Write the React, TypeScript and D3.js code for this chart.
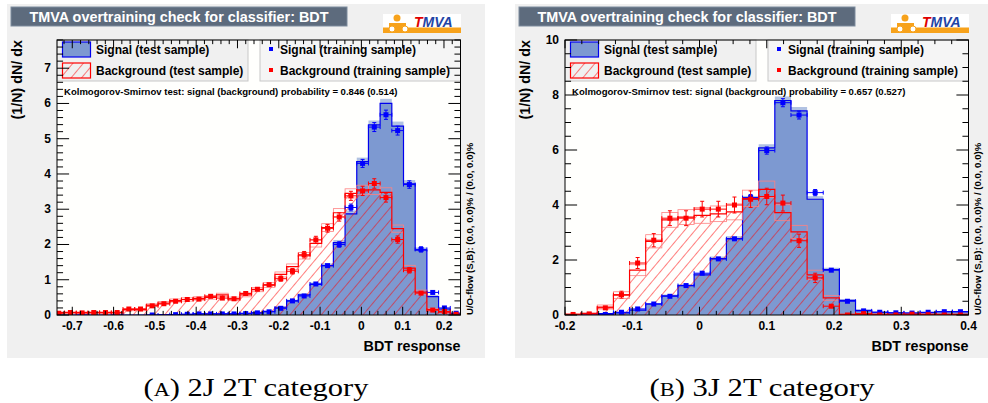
import React from "react";
import * as d3 from "d3";

// ---- panel A : 2J 2T category (35 bins) ----
const histRangeA: [number, number] = [-0.747, 0.2435];
const frameRangeA: [number, number] = [-0.737, 0.24];
const sigTestA = [0, 0, 0, 0, 0, 0, 0, 0, 0, 0.01, 0.01, 0.02, 0.03, 0.03, 0.03, 0.03, 0.05, 0.06, 0.1, 0.22, 0.4, 0.57, 0.87, 1.4, 2.05, 2.87, 4.35, 5.39, 6.0, 5.36, 3.72, 1.84, 0.52, 0.17, 0.05];
const sigTrainA = [null, null, 0, null, null, 0, null, null, 0, null, 0.01, 0.02, 0.03, 0.03, 0.03, 0.03, 0.04, 0.06, 0.09, 0.19, 0.4, 0.54, 0.88, 1.4, 2.0, 3.05, 4.3, 5.33, 5.68, 5.23, 3.7, 1.86, 0.64, 0.2, 0.05];
const sigErrA = [0.005, 0.005, 0.005, 0.005, 0.005, 0.005, 0.005, 0.005, 0.005, 0.005, 0.006, 0.008, 0.01, 0.01, 0.01, 0.01, 0.011, 0.013, 0.016, 0.024, 0.035, 0.04, 0.052, 0.065, 0.078, 0.096, 0.114, 0.127, 0.131, 0.126, 0.106, 0.075, 0.044, 0.025, 0.012];
const bgTestA = [0.07, 0.07, 0.07, 0.07, 0.07, 0.07, 0.15, 0.15, 0.28, 0.34, 0.41, 0.44, 0.47, 0.5, 0.57, 0.46, 0.57, 0.72, 0.85, 1.15, 1.37, 1.68, 2.03, 2.48, 2.9, 3.45, 3.55, 3.55, 3.48, 2.45, 1.33, 0.65, 0.15, 0.08, 0.03];
const bgTrainA = [0.05, 0.07, 0.06, 0.07, 0.07, 0.07, 0.17, 0.17, 0.26, 0.32, 0.39, 0.44, 0.45, 0.53, 0.48, 0.46, 0.61, 0.73, 0.86, 1.03, 1.24, 1.71, 2.13, 2.46, 2.78, 3.38, 3.52, 3.73, 3.33, 2.14, 1.27, 0.62, 0.14, 0.1, 0.02];
const bgErrA = [0.016, 0.019, 0.017, 0.019, 0.019, 0.019, 0.029, 0.029, 0.036, 0.04, 0.044, 0.046, 0.047, 0.051, 0.048, 0.047, 0.055, 0.06, 0.065, 0.071, 0.078, 0.092, 0.102, 0.11, 0.117, 0.129, 0.131, 0.135, 0.128, 0.102, 0.079, 0.055, 0.026, 0.022, 0.01];

// ---- panel B : 3J 2T category (25 bins) ----
const histRangeB: [number, number] = [-0.2, 0.4];
const frameRangeB: [number, number] = [-0.2, 0.4];
const sigTestB = [0, 0, 0.05, 0.08, 0.18, 0.4, 0.7, 1.07, 1.46, 2.05, 2.78, 4.22, 6.08, 7.8, 7.42, 4.21, 1.65, 0.53, 0.17, 0.1, 0.08, 0.07, 0.09, 0.12, 0.12];
const sigTrainB = [null, 0, 0.02, 0.1, 0.22, 0.4, 0.68, 1.07, 1.52, 2.04, 2.77, 4.27, 5.98, 7.72, 7.27, 4.45, 1.63, 0.5, 0.15, 0.1, 0.08, 0.07, 0.1, 0.12, 0.12];
const sigErrB = [0.005, 0.005, 0.008, 0.017, 0.025, 0.034, 0.044, 0.055, 0.065, 0.076, 0.088, 0.11, 0.13, 0.147, 0.143, 0.112, 0.068, 0.037, 0.02, 0.017, 0.015, 0.014, 0.017, 0.018, 0.018];
const bgTestB = [0.02, 0.05, 0.29, 0.72, 1.63, 2.68, 3.46, 3.56, 3.62, 3.68, 3.75, 4.24, 4.57, 3.72, 3.02, 1.46, 0.62, 0.02, 0.02, 0.02, 0.02, 0.02, 0.02, 0.02, 0.02];
const bgTrainB = [0.02, 0.04, 0.26, 0.74, 1.89, 2.72, 3.52, 3.52, 3.85, 3.85, 4.0, 4.21, 4.31, 4.07, 2.7, 1.35, 0.32, 0, 0.05, 0, 0, 0.03, 0.01, 0, 0];
const bgErrB = [0.02, 0.03, 0.074, 0.125, 0.2, 0.24, 0.27, 0.27, 0.285, 0.285, 0.29, 0.3, 0.3, 0.29, 0.24, 0.17, 0.082, 0.01, 0.032, 0.01, 0.01, 0.025, 0.015, 0.01, 0.01];

const ksA = "Kolmogorov-Smirnov test: signal (background) probability = 0.846 (0.514)";
const ksB = "Kolmogorov-Smirnov test: signal (background) probability = 0.657 (0.527)";
const title = "TMVA overtraining check for classifier: BDT";
const uoflow = "U/O-flow (S,B): (0.0, 0.0)% / (0.0, 0.0)%";

const sigLine = "#0000ee";
const sigFill = "#7d99d1";
const bgLine = "#ff0000";
const font = "'Liberation Sans', Arial, sans-serif";

const panelW = 478;
const frameL = 50;
const frameR = 453.5;
const frameT = 40;
const frameB = 315;

const tickVals = (d: number[], step: number) => {
  const a = Math.ceil(d[0] / step - 1e-6);
  const b = Math.floor(d[1] / step + 1e-6);
  return d3.range(a, b + 1).map((i) => +(i * step).toFixed(6));
};

type PanelProps = {
  id: string;
  x0: number;
  xDomain: [number, number];
  histRange: [number, number];
  yMax: number;
  xMajor: number;
  xMinor: number;
  yMajor: number;
  yMinor: number;
  sigTest: number[];
  sigTrain: (number | null)[];
  sigErr: number[];
  bgTest: number[];
  bgTrain: (number | null)[];
  bgErr: number[];
  ks: string;
};

const Panel = ({ id, x0, xDomain, histRange, yMax, xMajor, xMinor, yMajor, yMinor, sigTest, sigTrain, sigErr, bgTest, bgTrain, bgErr, ks }: PanelProps) => {
  const x = d3.scaleLinear().domain(xDomain).range([x0 + frameL, x0 + frameR]);
  const y = d3.scaleLinear().domain([0, yMax]).range([frameB, frameT]);
  const n = sigTest.length;
  const bw = (histRange[1] - histRange[0]) / n;
  const edge = (i: number) => histRange[0] + i * bw;

  const line = d3.line<[number, number]>().x((d) => x(d[0])).y((d) => y(d[1]));
  const outline = (vals: number[]) => {
    const pts: [number, number][] = [[edge(0), 0]];
    vals.forEach((v, i) => {
      pts.push([edge(i), v]);
      pts.push([edge(i + 1), v]);
    });
    pts.push([edge(n), 0]);
    return line(pts) || "";
  };

  const hatch = `hatch-${id}`;
  const clip = `clip-${id}`;
  const L = x0 + frameL;
  const R = x0 + frameR;

  const band = (vals: number[], errs: number[], color: string, key: string) =>
    vals.map((v, i) => (
      <rect key={key + i} x={x(edge(i))} width={x(edge(i + 1)) - x(edge(i))} y={y(v + errs[i])} height={Math.max(0.8, y(v - errs[i]) - y(v + errs[i]))} fill={color} />
    ));

  const points = (vals: (number | null)[], errs: number[], color: string, key: string) =>
    vals.map((v, i) => {
      if (v === null) return null;
      const cx = x(edge(i) + bw / 2);
      const xl = x(edge(i));
      const xr = x(edge(i + 1));
      const cy = y(v);
      const yt = y(v + errs[i]);
      const yb = y(Math.max(0, v - errs[i]));
      return (
        <g key={key + i} stroke={color} strokeWidth={1}>
          <line x1={xl} x2={xr} y1={cy} y2={cy} />
          <line x1={xl} x2={xl} y1={cy - 2} y2={cy + 2} />
          <line x1={xr} x2={xr} y1={cy - 2} y2={cy + 2} />
          {yb - yt > 5 && <line x1={cx} x2={cx} y1={yt} y2={yb} />}
          {yb - yt > 5 && <line x1={cx - 2} x2={cx + 2} y1={yt} y2={yt} />}
          {yb - yt > 5 && <line x1={cx - 2} x2={cx + 2} y1={yb} y2={yb} />}
          <rect x={cx - 2.5} y={cy - 2.5} width={5} height={5} fill={color} stroke="none" />
        </g>
      );
    });

  const xMaj = tickVals(xDomain, xMajor);
  const xMin = tickVals(xDomain, xMinor);
  const yMaj = tickVals([0, yMax], yMajor);
  const yMin = tickVals([0, yMax], yMinor);
  const xTickLen = 0.03 * (frameB - frameT);
  const yTickLen = 0.03 * (frameR - frameL);

  return (
    <g>
      <defs>
        <pattern id={hatch} patternUnits="userSpaceOnUse" width={8} height={8} patternTransform="rotate(40)">
          <line x1={0} y1={0} x2={0} y2={8} stroke={bgLine} strokeWidth={1} />
        </pattern>
        <clipPath id={clip}>
          <rect x={L} y={frameT} width={R - L} height={frameB - frameT} />
        </clipPath>
      </defs>
      {/* canvas */}
      <rect x={x0} y={4} width={panelW} height={354} fill="#f0f0f0" />
      {/* title box */}
      <rect x={x0 + 4} y={7} width={336} height={19} fill="#5d6b7d" stroke="#7d8b9d" />
      <text x={x0 + 172} y={21.5} textAnchor="middle" fill="#fff" fontFamily={font} fontWeight="bold" fontSize={14.4}>{title}</text>
      {/* logo */}
      <g transform={`translate(${x0 + 376},14)`}>
        <rect x={0} y={0} width={78} height={19} fill="#fff" />
        <rect x={0} y={13.5} width={78} height={5.5} fill="#f7a21b" />
        <circle cx={14} cy={4} r={3.5} fill="#f7a21b" />
        <rect x={6} y={9} width={17} height={6} fill="#f7a21b" />
        <circle cx={9} cy={15} r={3} fill="#fff" stroke="#f7a21b" />
        <circle cx={22} cy={15} r={3} fill="#fff" stroke="#f7a21b" />
        <text x={31} y={13} fontFamily={font} fontWeight="bold" fontStyle="italic" fontSize={14}>
          <tspan fill="#e00000">T</tspan>
          <tspan fill="#2244a5">MVA</tspan>
        </text>
      </g>
      {/* frame */}
      <rect x={L} y={frameT} width={R - L} height={frameB - frameT} fill="#fffffd" />
      <g clipPath={`url(#${clip})`}>
        <path d={outline(sigTest)} fill={sigFill} stroke="none" />
        {band(sigTest, sigErr, "rgba(125,153,209,0.6)", "sb")}
        <path d={outline(sigTest)} fill="none" stroke={sigLine} strokeWidth={1.2} />
        <path d={outline(bgTest)} fill={`url(#${hatch})`} stroke="none" />
        {bgTest.map((v, i) => (
          <rect key={"bb" + i} x={x(edge(i))} width={x(edge(i + 1)) - x(edge(i))} y={y(v + bgErr[i])} height={Math.max(0.8, y(Math.max(0, v - bgErr[i])) - y(v + bgErr[i]))} fill="none" stroke="#ff8080" strokeWidth={0.8} />
        ))}
        <path d={outline(bgTest)} fill="none" stroke={bgLine} strokeWidth={1.2} />
        {points(sigTrain, sigErr, "#0000ff", "sp")}
        {points(bgTrain, bgErr, "#ff0000", "bp")}
      </g>
      {/* legends */}
      <rect x={L} y={frameT} width={191} height={41} fill="#f0f0f0" stroke="#c8c8c8" />
      <rect x={L + 5.5} y={42} width={28} height={15} fill={sigFill} stroke={sigLine} strokeWidth={1.2} />
      <rect x={L + 5.5} y={63} width={28} height={15} fill={`url(#${hatch})`} stroke={bgLine} strokeWidth={1.2} />
      <g fontFamily={font} fontWeight="bold" fontSize={12} fill="#000">
        <text x={L + 39} y={53.5}>Signal (test sample)</text>
        <text x={L + 39} y={74.5}>Background (test sample)</text>
      </g>
      <rect x={x0 + 253} y={frameT} width={R - (x0 + 253)} height={41} fill="#f5f5f5" stroke="#c8c8c8" />
      <rect x={x0 + 262} y={47} width={4} height={4} fill="#0000ff" />
      <rect x={x0 + 262} y={68} width={4} height={4} fill="#ff0000" />
      <g fontFamily={font} fontWeight="bold" fontSize={12} fill="#000">
        <text x={x0 + 273} y={53.5}>Signal (training sample)</text>
        <text x={x0 + 273} y={74.5}>Background (training sample)</text>
      </g>
      <text x={x0 + 57} y={95} fontFamily={font} fontWeight="bold" fontSize={9.55}>{ks}</text>
      {/* frame border and ticks */}
      <rect x={L} y={frameT} width={R - L} height={frameB - frameT} fill="none" stroke="#000" />
      <g stroke="#000" strokeWidth={1}>
        {xMin.map((v) => {
          const len = xMaj.some((m) => Math.abs(m - v) < 1e-6) ? xTickLen : xTickLen / 2;
          return (
            <g key={"xt" + v}>
              <line x1={x(v)} x2={x(v)} y1={frameB} y2={frameB - len} />
              <line x1={x(v)} x2={x(v)} y1={frameT} y2={frameT + len} />
            </g>
          );
        })}
        {yMin.map((v) => {
          const len = yMaj.some((m) => Math.abs(m - v) < 1e-6) ? yTickLen : yTickLen / 2;
          return (
            <g key={"yt" + v}>
              <line x1={L} x2={L + len} y1={y(v)} y2={y(v)} />
              <line x1={R} x2={R - len} y1={y(v)} y2={y(v)} />
            </g>
          );
        })}
      </g>
      <g fontFamily={font} fontWeight="bold" fontSize={12} fill="#000">
        {xMaj.map((v) => (
          <text key={"xl" + v} x={x(v)} y={329.5} textAnchor="middle">{String(v)}</text>
        ))}
        {yMaj.map((v) => (
          <text key={"yl" + v} x={L - 6} y={y(v) + 4} textAnchor="end">{String(v)}</text>
        ))}
      </g>
      <text x={R} y={350.5} textAnchor="end" fontFamily={font} fontWeight="bold" fontSize={14.3}>BDT response</text>
      <text transform={`translate(${x0 + 15},${frameT}) rotate(-90)`} textAnchor="end" fontFamily={font} fontWeight="bold" fontSize={14.3}>(1/N) dN/ dx</text>
      <text transform={`translate(${x0 + 465.5},${frameB}) rotate(-90)`} fontFamily={font} fontWeight="bold" fontSize={9.6}>{uoflow}</text>
    </g>
  );
};

const Caption = ({ cx, letter, label }: { cx: number; letter: string; label: string }) => (
  <text x={cx} y={396} textAnchor="middle" fontFamily="'Liberation Serif', 'Times New Roman', serif" fontSize={26}
    textLength={225} lengthAdjust="spacingAndGlyphs">
    (<tspan fontSize={19}>{letter}</tspan>) {label}
  </text>
);

export default function App() {
  return (
    <svg width={988} height={403} style={{ position: "absolute", left: 0, top: 0, background: "#fff" }}>
      <Panel id="a" x0={7} xDomain={frameRangeA} histRange={histRangeA} yMax={7.8} xMajor={0.1} xMinor={0.02} yMajor={1} yMinor={0.2}
        sigTest={sigTestA} sigTrain={sigTrainA} sigErr={sigErrA} bgTest={bgTestA} bgTrain={bgTrainA} bgErr={bgErrA} ks={ksA} />
      <Panel id="b" x0={515} xDomain={frameRangeB} histRange={histRangeB} yMax={10} xMajor={0.1} xMinor={0.025} yMajor={2} yMinor={0.5}
        sigTest={sigTestB} sigTrain={sigTrainB} sigErr={sigErrB} bgTest={bgTestB} bgTrain={bgTrainB} bgErr={bgErrB} ks={ksB} />
      <Caption cx={256} letter="A" label="2J 2T category" />
      <Caption cx={762} letter="B" label="3J 2T category" />
    </svg>
  );
}
